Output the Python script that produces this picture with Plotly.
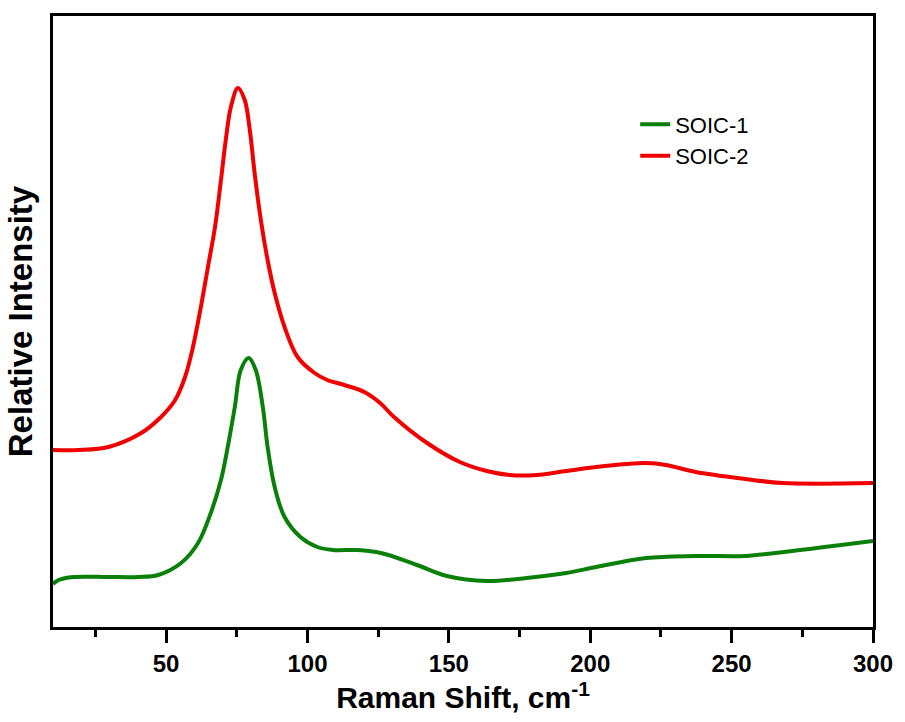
import plotly.graph_objects as go

# Raman shift (cm^-1) and relative intensity (arb. units)
soic2_x = [10, 19.0, 29.6, 41.2, 48.2, 53.2, 56.7, 59.5, 62.3, 64.8, 67.3, 69.4, 71.1, 72.9,
           75.4, 77.8, 79.6, 81.3, 83.5, 85.9, 88.4, 91.9, 96.5, 102.5, 107.0, 113.0,
           120.1, 125.7, 130.6, 142.3, 153.9, 163.4, 171.5, 181.0, 191.5, 202.1, 212.7,
           219.7, 226.8, 237.3, 254.9, 268.0, 300]
soic2_y = [177, 177, 180, 194, 210, 227, 250, 280, 320, 360, 400, 447, 487, 520,
           539, 527, 497, 454, 407, 367, 334, 300, 270, 254, 247, 242,
           235, 224, 210, 184, 165, 156, 152, 152, 156, 160, 163,
           164, 162, 155, 148, 144, 144]

soic1_x = [10, 12.0, 17.3, 29.6, 40.1, 47.2, 55.3, 61.3, 65.8, 69.4, 71.8, 74.3, 76.4, 79.2,
           81.7, 84.2, 85.9, 88.4, 91.9, 97.5, 103.5, 109.0, 117.6, 126.0, 138.7, 149.3,
           163.4, 177.5, 191.5, 202.1, 219.7, 237.3, 254.9, 265.5, 300]
soic1_y = [43, 47, 50, 50, 50, 52, 64, 84, 114, 147, 180, 220, 257, 269,
           257, 220, 180, 140, 110, 90, 80, 77, 77, 74, 62, 51,
           46, 49, 54, 60, 69, 71, 71, 74, 86]

x_ticks = [50, 100, 150, 200, 250, 300]

SANS = "Liberation Sans, Arial, sans-serif"

fig = go.Figure()
fig.add_trace(go.Scatter(x=soic1_x, y=soic1_y, mode="lines", name="SOIC-1",
                         line=dict(color="#0a800a", width=4, shape="spline", smoothing=1.0)))
fig.add_trace(go.Scatter(x=soic2_x, y=soic2_y, mode="lines", name="SOIC-2",
                         line=dict(color="#f00000", width=4, shape="spline", smoothing=1.0)))

fig.update_layout(
    width=905, height=722,
    margin=dict(l=53, r=28, t=16, b=95),
    paper_bgcolor="white", plot_bgcolor="white",
    showlegend=True,
    legend=dict(x=0.71, y=0.857, xanchor="left", yanchor="top",
                font=dict(family=SANS, size=22, color="black"),
                bgcolor="rgba(0,0,0,0)", tracegroupgap=0),
    xaxis=dict(range=[10, 300], tickvals=x_ticks, ticktext=[str(v) for v in x_ticks],
               ticks="outside", ticklen=13, tickwidth=2.5, tickcolor="black",
               minor=dict(dtick=25, tick0=0, ticks="outside", ticklen=7, tickwidth=2.5, tickcolor="black"),
               showline=True, linecolor="black", linewidth=3, mirror=True,
               showgrid=False, zeroline=False,
               tickfont=dict(family=SANS, size=24, color="black", weight="bold"),
               title=dict(text="Raman Shift, cm<sup>-1</sup>", standoff=8,
                          font=dict(family=SANS, size=30, color="black", weight="bold"))),
    yaxis=dict(range=[0, 611], showticklabels=False, ticks="",
               showline=True, linecolor="black", linewidth=3, mirror=True,
               showgrid=False, zeroline=False,
               title=dict(text="Relative Intensity", standoff=8,
                          font=dict(family=SANS, size=33, color="black", weight="bold"))),
)

fig.write_html("out.html")
